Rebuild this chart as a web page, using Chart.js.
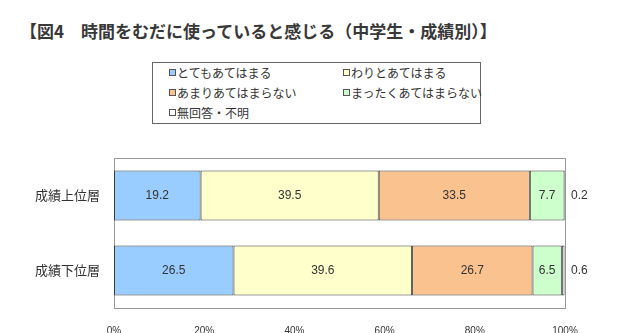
<!DOCTYPE html>
<html>
<head>
<meta charset="utf-8">
<script src="https://cdn.jsdelivr.net/npm/chart.js@4"></script>
<style>
  body { margin: 0; background: #fff; font-family: "Noto Sans CJK JP", sans-serif; }
  #wrap { position: relative; width: 637px; height: 333px; overflow: hidden; }
  #titulo { position: absolute; left: 20px; top: 18px; font-size: 17px; font-weight: bold; color: #383838; white-space: nowrap; }
  #legenda { position: absolute; left: 152px; top: 62px; width: 329px; height: 62px; border: 1px solid #666; box-sizing: border-box; }
  .item { position: absolute; font-size: 12px; color: #333; white-space: nowrap; line-height: 14px; }
  .item i { display: inline-block; width: 5px; height: 5px; border: 1px solid #555; margin-right: 1px; vertical-align: 2px; }
  canvas { position: absolute; left: 0; top: 0; }
</style>
</head>
<body>
<div id="wrap">
  <div id="titulo">【図4　時間をむだに使っていると感じる（中学生・成績別）】</div>
  <div id="legenda"></div>
  <canvas id="grafico" width="637" height="333"></canvas>
</div>
<script>
const categorias = ["成績上位層", "成績下位層"];
const series = ["とてもあてはまる", "わりとあてはまる", "あまりあてはまらない", "まったくあてはまらない", "無回答・不明"];
const muito = [19.2, 26.5];
const bastante = [39.5, 39.6];
const poucoVal = [33.5, 26.7];
const nada = [7.7, 6.5];
const semResposta = [0.2, 0.6];
const ticks = ["0%", "20%", "40%", "60%", "80%", "100%"];

const valores = [muito, bastante, poucoVal, nada, semResposta];
const cores = ["#99ccff", "#ffffcc", "#fac28f", "#ccffcc", "#ffffff"];

// legenda em caixa, duas colunas
const leg = document.getElementById("legenda");
const posLeg = [[16, 3], [190, 3], [16, 23], [190, 23], [16, 43]];
series.forEach((s, i) => {
  const d = document.createElement("div");
  d.className = "item";
  d.style.left = posLeg[i][0] + "px";
  d.style.top = posLeg[i][1] + "px";
  d.innerHTML = '<i style="background:' + cores[i] + '"></i>' + s;
  leg.appendChild(d);
});

const rotulos = {
  id: "rotulos",
  afterDatasetsDraw(chart) {
    const c = chart.ctx;
    c.save();
    c.font = "12px 'Liberation Sans', Arial, sans-serif";
    c.fillStyle = "#333";
    c.textBaseline = "middle";
    chart.data.datasets.forEach((ds, di) => {
      chart.getDatasetMeta(di).data.forEach((bar, i) => {
        const v = ds.data[i];
        if (di === 4) {
          c.textAlign = "left";
          c.fillText(String(v), chart.chartArea.right + 6, bar.y);
        } else {
          c.textAlign = "center";
          c.fillText(String(v), (bar.x + bar.base) / 2, bar.y);
        }
      });
    });
    c.restore();
  }
};

const moldura = {
  id: "moldura",
  beforeDatasetsDraw(chart) {
    const a = chart.chartArea;
    const c = chart.ctx;
    c.save();
    c.strokeStyle = "#999";
    c.lineWidth = 1;
    c.strokeRect(a.left + 0.5, a.top + 0.5, a.right - a.left, a.bottom - a.top);
    c.restore();
  }
};

new Chart(document.getElementById("grafico"), {
  type: "bar",
  data: {
    labels: categorias,
    datasets: valores.map((v, i) => ({
      label: series[i],
      data: v,
      backgroundColor: cores[i],
      borderColor: "#3a3a3a",
      borderWidth: 1,
      borderSkipped: false,
      barPercentage: 0.667,
      categoryPercentage: 1
    }))
  },
  options: {
    indexAxis: "y",
    responsive: false,
    animation: false,
    layout: { padding: { top: 158, right: 72, bottom: 0, left: 0 } },
    plugins: {
      legend: { display: false },
      tooltip: { enabled: false }
    },
    scales: {
      x: {
        stacked: true,
        min: 0,
        max: 100,
        grid: { display: false, drawTicks: false },
        border: { display: false },
        afterFit(s) { s.height = 25; },
        ticks: {
          stepSize: 20,
          padding: 17,
          color: "#333",
          font: { size: 10, family: "'Liberation Sans', Arial, sans-serif" },
          callback: (v, i) => ticks[i]
        }
      },
      y: {
        stacked: true,
        grid: { display: false, drawTicks: false },
        border: { display: false },
        afterFit(s) { s.width = 114; },
        ticks: {
          padding: 14,
          color: "#333",
          font: { size: 13, family: "'Noto Sans CJK JP', sans-serif" }
        }
      }
    }
  },
  plugins: [moldura, rotulos]
});
</script>
</body>
</html>
